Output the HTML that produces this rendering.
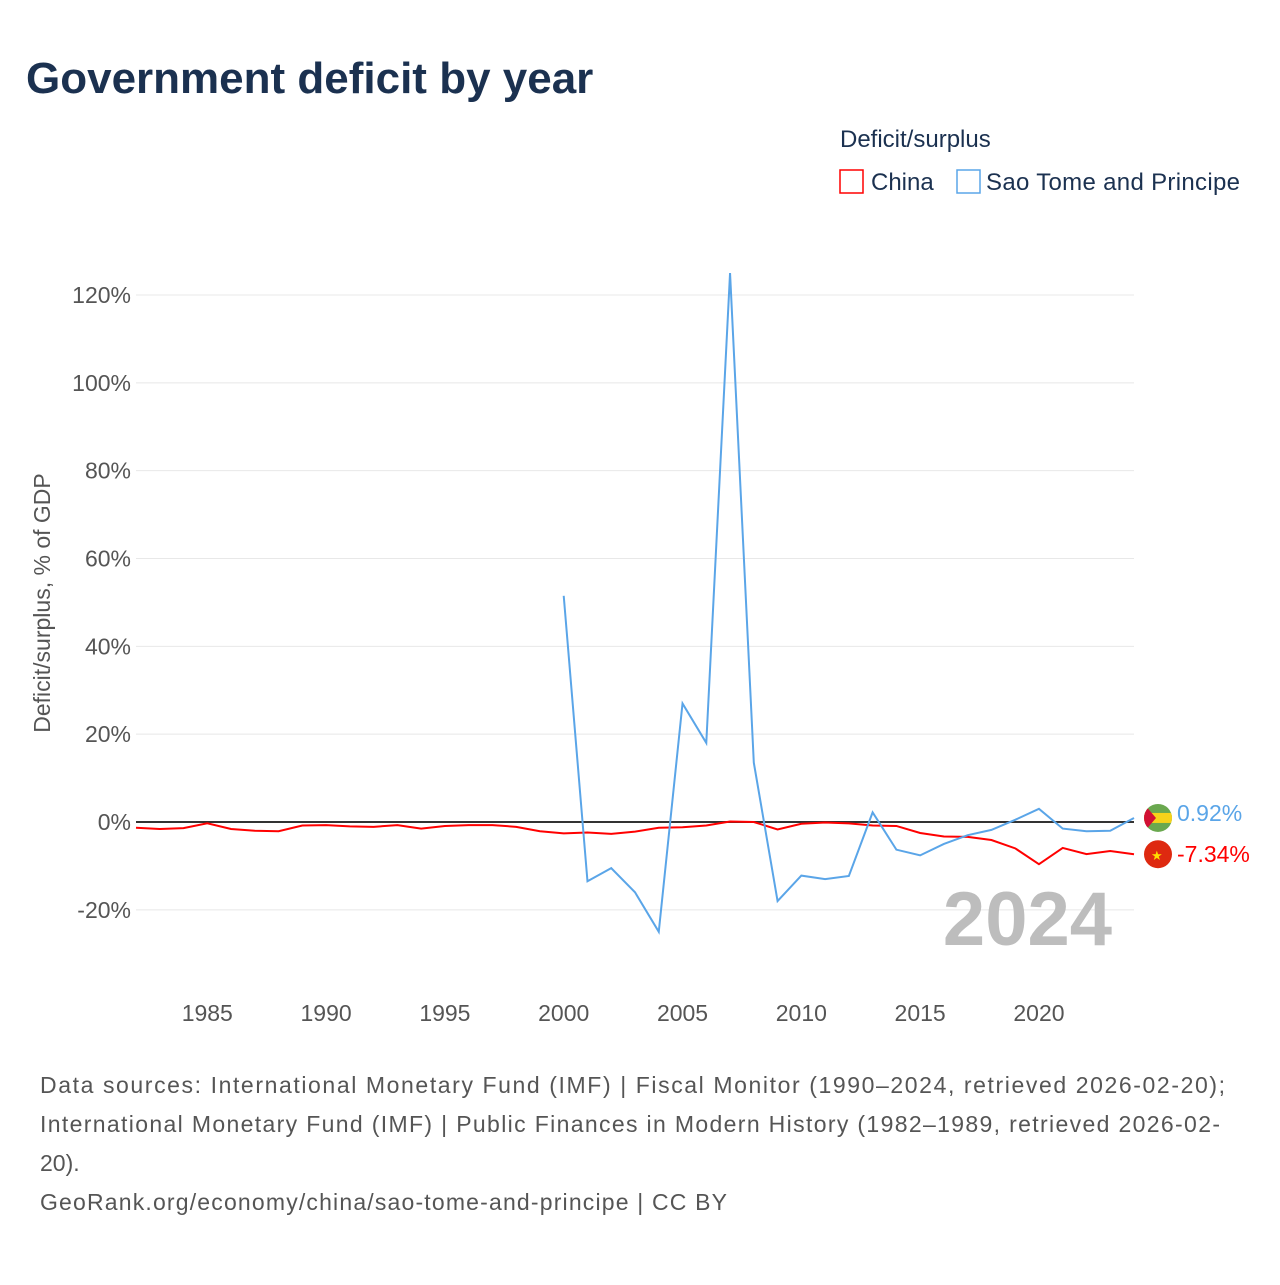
<!DOCTYPE html>
<html><head><meta charset="utf-8"><style>
body{margin:0;background:#fff;font-family:"Liberation Sans",sans-serif;}
svg text{font-family:"Liberation Sans",sans-serif;}
</style></head><body>
<svg id="chart" width="1280" height="1280">
<defs><clipPath id="fc"><circle cx="1158" cy="818" r="14"/></clipPath></defs>
<text x="26" y="93" font-size="44" font-weight="bold" fill="#1b3150">Government deficit by year</text>
<text x="840" y="147" font-size="24" fill="#1b3150">Deficit/surplus</text>
<g><rect x="840" y="170" width="23" height="23" fill="none" stroke="#f00" stroke-width="1.5"/><text x="871" y="190" font-size="24" fill="#1b3150">China</text></g>
<g><rect x="957" y="170" width="23" height="23" fill="none" stroke="#5aa5e8" stroke-width="1.5"/><text x="986" y="190" font-size="24" fill="#1b3150" textLength="254">Sao Tome and Principe</text></g>
<text transform="translate(50,603) rotate(-90)" text-anchor="middle" font-size="23" fill="#555">Deficit/surplus, % of GDP</text>
<g id="grid"></g><g id="series"></g>
<text x="1112" y="945" text-anchor="end" font-size="76" font-weight="bold" fill="#bdbdbd">2024</text>
<g font-size="23" fill="#555">
<text x="40" y="1093" textLength="1185">Data sources: International Monetary Fund (IMF) | Fiscal Monitor (1990–2024, retrieved 2026-02-20);</text>
<text x="40" y="1132" textLength="1180">International Monetary Fund (IMF) | Public Finances in Modern History (1982–1989, retrieved 2026-02-</text>
<text x="40" y="1171">20).</text>
<text x="40" y="1210" textLength="687">GeoRank.org/economy/china/sao-tome-and-principe | CC BY</text>
</g>
</svg>
<script>
const yTicks=[-20,0,20,40,60,80,100,120];
const xTicks=[1985,1990,1995,2000,2005,2010,2015,2020];
const chinaYears=[1982,1983,1984,1985,1986,1987,1988,1989,1990,1991,1992,1993,1994,1995,1996,1997,1998,1999,2000,2001,2002,2003,2004,2005,2006,2007,2008,2009,2010,2011,2012,2013,2014,2015,2016,2017,2018,2019,2020,2021,2022,2023,2024];
const chinaValues=[-1.3,-1.6,-1.4,-0.3,-1.6,-2.0,-2.1,-0.8,-0.7,-1.0,-1.1,-0.7,-1.5,-0.9,-0.7,-0.7,-1.1,-2.1,-2.6,-2.4,-2.7,-2.2,-1.3,-1.2,-0.8,0.1,0,-1.7,-0.4,-0.1,-0.3,-0.8,-0.9,-2.5,-3.3,-3.4,-4.1,-6.0,-9.6,-5.9,-7.3,-6.6,-7.34];
const stpYears=[2000,2001,2002,2003,2004,2005,2006,2007,2008,2009,2010,2011,2012,2013,2014,2015,2016,2017,2018,2019,2020,2021,2022,2023,2024];
const stpValues=[51.5,-13.5,-10.5,-16,-25,27,18,125,13.5,-18,-12.2,-13,-12.3,2.2,-6.3,-7.6,-5,-3,-1.8,0.5,3,-1.5,-2.1,-2.0,0.92];
const X=y=>136+(y-1982)*(1134-136)/42;
const Y=v=>822-v*(822-295)/120;
const NS='http://www.w3.org/2000/svg';
const grid=document.getElementById('grid'),ser=document.getElementById('series');
function mk(t,a,p){const e=document.createElementNS(NS,t);for(const k in a)e.setAttribute(k,a[k]);p.appendChild(e);return e;}
yTicks.forEach(v=>{
 const l=mk('line',{x1:136,x2:1134,y1:Y(v),y2:Y(v),stroke:v===0?'#333':'#e8e8e8','stroke-width':v===0?2:1},grid);
 
 
 const t=mk('text',{x:131,y:Y(v)+8,'text-anchor':'end','font-size':23,fill:'#555'},grid);t.textContent=v+'%';
 
 
});
xTicks.forEach(y=>{
 const t=mk('text',{x:X(y),y:1021,'text-anchor':'middle','font-size':23,fill:'#555'},grid);t.textContent=y;
 
 
});
function line(ys,vs,c,name){
 const p=mk('polyline',{points:ys.map((y,i)=>X(y)+','+Y(vs[i])).join(' '),fill:'none',stroke:c,'stroke-width':2},ser);
 
 
}
line(chinaYears,chinaValues,'#f00','china-line');
line(stpYears,stpValues,'#5aa5e8','sao-tome-line');
const sv=stpValues[stpValues.length-1],cv=chinaValues[chinaValues.length-1];
const fy=Y(sv);
document.querySelector('#fc circle').setAttribute('cy',fy);
const fg=mk('g',{'clip-path':'url(#fc)'},ser);


mk('rect',{x:1144,y:fy-14,width:28,height:28,fill:'#6aa84f'},fg);
mk('rect',{x:1144,y:fy-5,width:28,height:10,fill:'#f6d21a'},fg);
mk('path',{d:`M1144 ${fy-14} L1156 ${fy} L1144 ${fy+14}Z`,fill:'#d21034'},fg);
const f2=mk('circle',{cx:1158,cy:Y(cv),r:14,fill:'#de2910'},ser);


const st=mk('text',{x:1151,y:Y(cv)+6,'font-size':13,fill:'#ffde00'},ser);st.textContent='★';
const t1=mk('text',{x:1177,y:Y(sv)+3,'font-size':23,fill:'#5aa5e8'},ser);t1.textContent=sv.toFixed(2)+'%';


const t2=mk('text',{x:1177,y:Y(cv)+8,'font-size':23,fill:'#f00'},ser);t2.textContent=cv.toFixed(2)+'%';


</script>
</body></html>
